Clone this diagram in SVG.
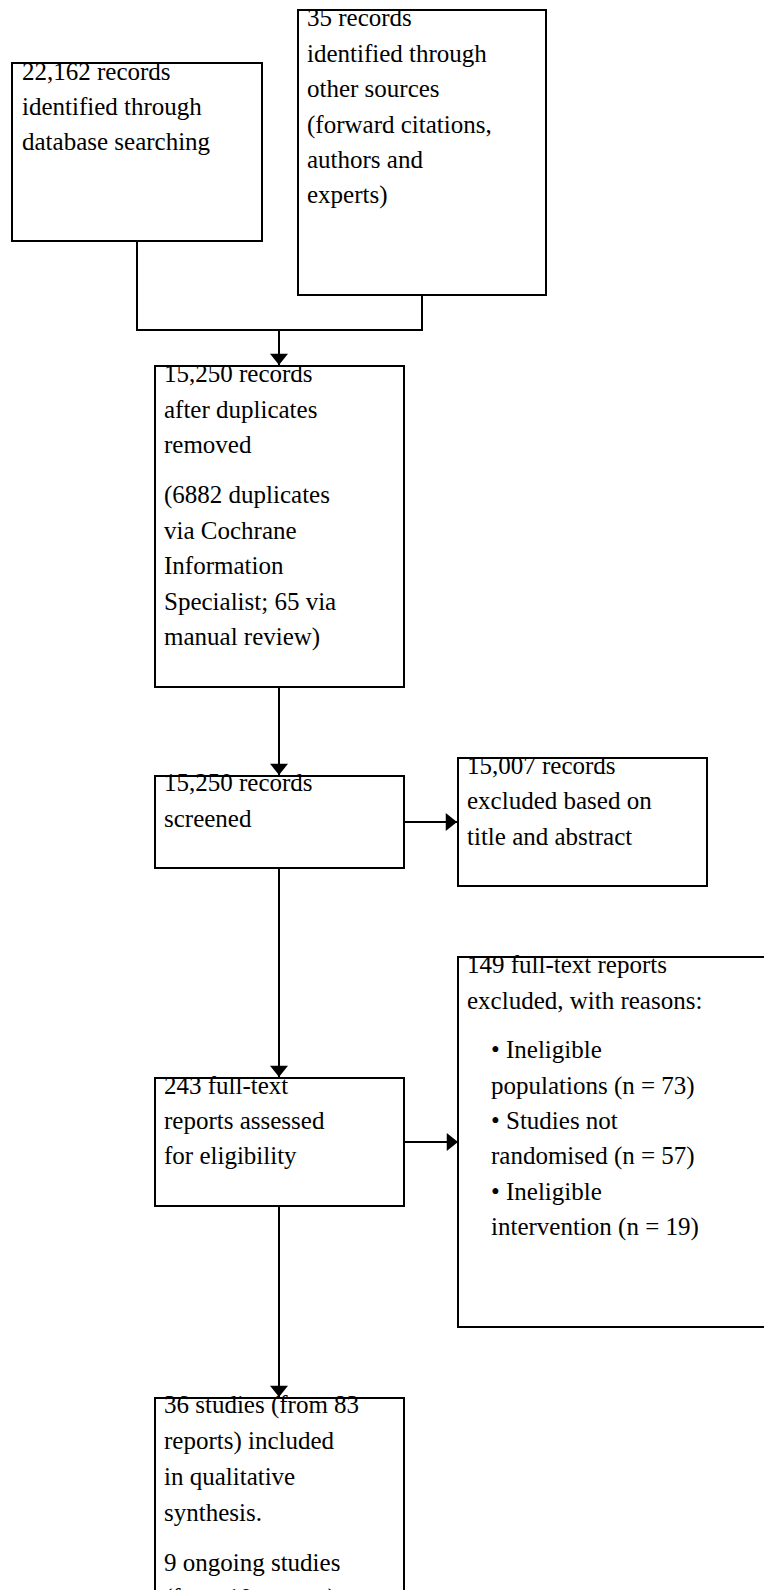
<svg xmlns="http://www.w3.org/2000/svg" width="764" height="1590" viewBox="0 0 764 1590">
<style>
.box{fill:#fff;stroke:#000;stroke-width:2}
.ln{fill:none;stroke:#000;stroke-width:2}
text{font-family:"Liberation Serif","Times New Roman",serif;font-size:25px;fill:#000}
</style>
<defs>
<marker id="ah" markerUnits="userSpaceOnUse" markerWidth="18" markerHeight="18" viewBox="0 0 10 16" refX="10" refY="8" orient="auto">
<path d="M0,0 L10,8 L0,16 Z" fill="#000"/>
</marker>
</defs>
<rect width="764" height="1590" fill="#fff"/>
<g id="connectors">
<path class="ln" d="M137,241 V330 H422 V295"/>
<path class="ln" d="M279,330 V365" marker-end="url(#ah)"/>
<path class="ln" d="M279,687 V775" marker-end="url(#ah)"/>
<path class="ln" d="M404,822 H457" marker-end="url(#ah)"/>
<path class="ln" d="M279,868 V1077" marker-end="url(#ah)"/>
<path class="ln" d="M404,1142 H458" marker-end="url(#ah)"/>
<path class="ln" d="M279,1206 V1397" marker-end="url(#ah)"/>
</g>
<g id="n1">
<rect class="box" x="12" y="63" width="250" height="178"/>
<text x="22" y="80">22,162 records</text>
<text x="22" y="115">identified through</text>
<text x="22" y="150">database searching</text>
</g>
<g id="n2">
<rect class="box" x="298" y="10" width="248" height="285"/>
<text x="307" y="26">35 records</text>
<text x="307" y="62">identified through</text>
<text x="307" y="97">other sources</text>
<text x="307" y="133">(forward citations,</text>
<text x="307" y="168">authors and</text>
<text x="307" y="203">experts)</text>
</g>
<g id="n3">
<rect class="box" x="155" y="366" width="249" height="321"/>
<text x="164" y="382">15,250 records</text>
<text x="164" y="418">after duplicates</text>
<text x="164" y="453">removed</text>
<text x="164" y="503">(6882 duplicates</text>
<text x="164" y="539">via Cochrane</text>
<text x="164" y="574">Information</text>
<text x="164" y="610">Specialist; 65 via</text>
<text x="164" y="645">manual review)</text>
</g>
<g id="n4">
<rect class="box" x="155" y="776" width="249" height="92"/>
<text x="164" y="791">15,250 records</text>
<text x="164" y="827">screened</text>
</g>
<g id="n5">
<rect class="box" x="458" y="758" width="249" height="128"/>
<text x="467" y="774">15,007 records</text>
<text x="467" y="809">excluded based on</text>
<text x="467" y="845">title and abstract</text>
</g>
<g id="n6">
<rect class="box" x="155" y="1078" width="249" height="128"/>
<text x="164" y="1094">243 full-text</text>
<text x="164" y="1129">reports assessed</text>
<text x="164" y="1164">for eligibility</text>
</g>
<g id="n7">
<rect class="box" x="458" y="957" width="320" height="370"/>
<text x="467" y="973">149 full-text reports</text>
<text x="467" y="1009">excluded, with reasons:</text>
<text x="491" y="1058">• Ineligible</text>
<text x="491" y="1094">populations (n = 73)</text>
<text x="491" y="1129">• Studies not</text>
<text x="491" y="1164">randomised (n = 57)</text>
<text x="491" y="1200">• Ineligible</text>
<text x="491" y="1235">intervention (n = 19)</text>
</g>
<g id="n8">
<rect class="box" x="155" y="1398" width="249" height="220"/>
<text x="164" y="1413">36 studies (from 83</text>
<text x="164" y="1449">reports) included</text>
<text x="164" y="1485">in qualitative</text>
<text x="164" y="1521">synthesis.</text>
<text x="164" y="1571">9 ongoing studies</text>
<text x="164" y="1606">(from 10 reports)</text>
</g>
</svg>
